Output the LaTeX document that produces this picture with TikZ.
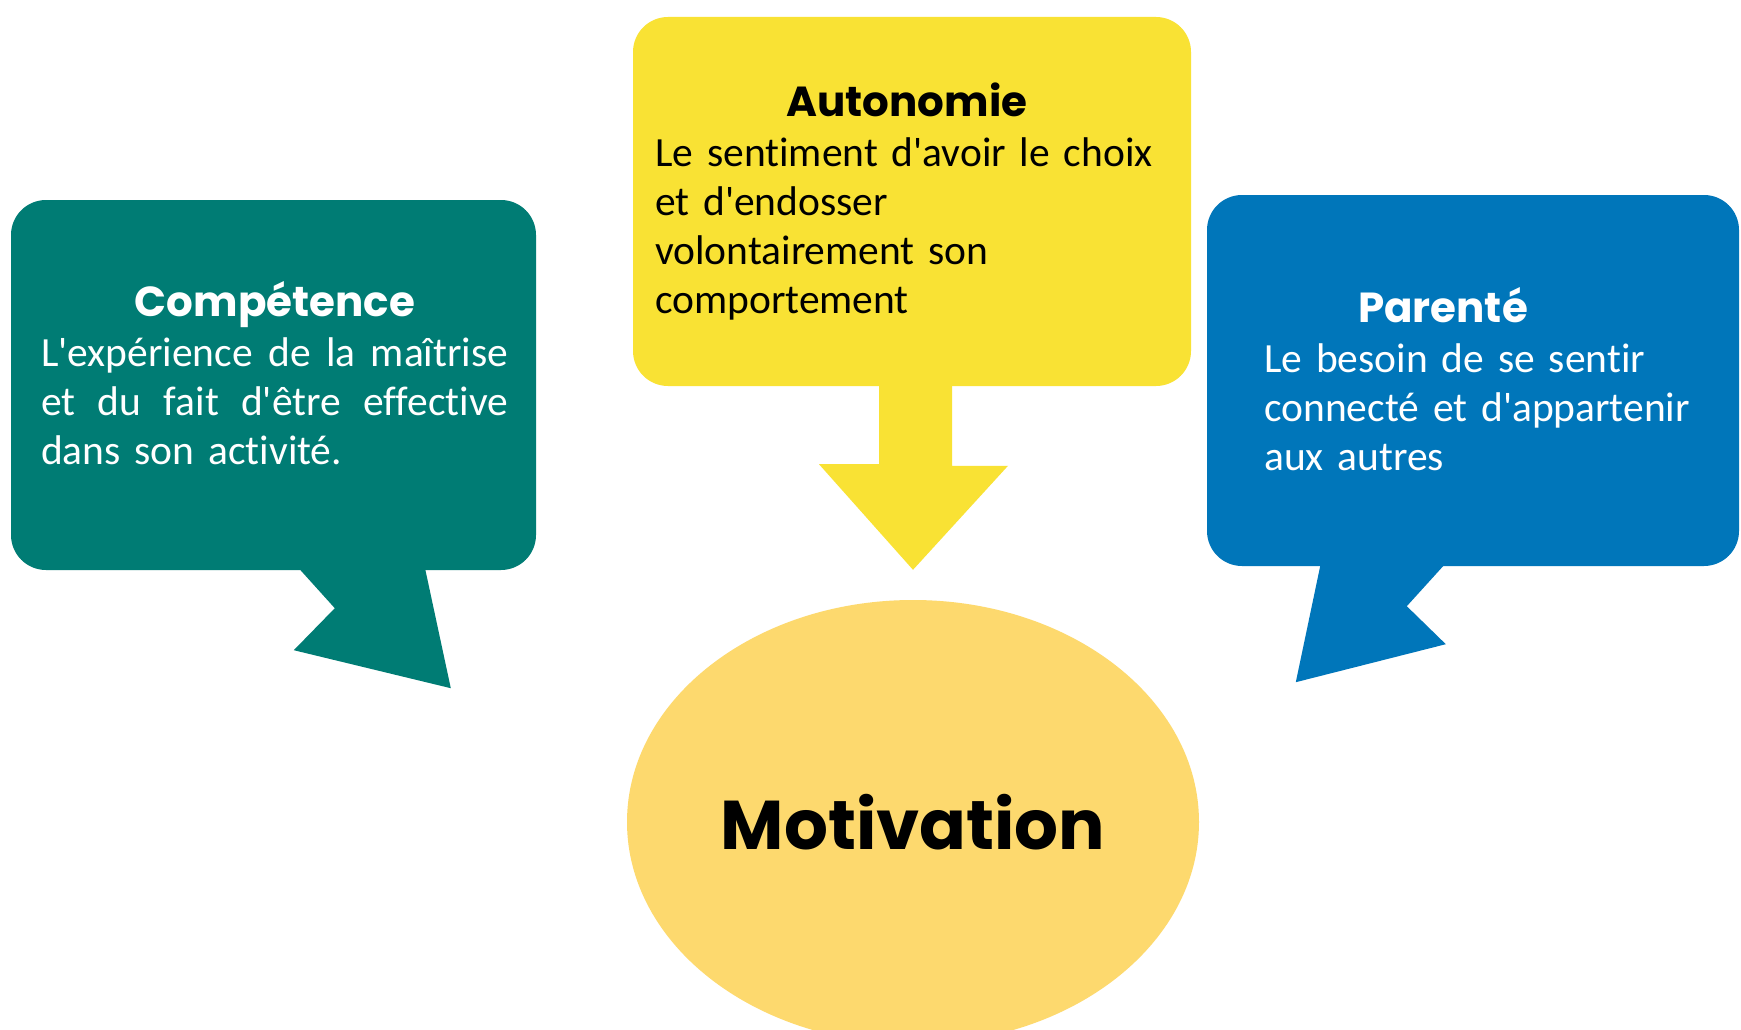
\documentclass[tikz,border=0pt]{standalone}
\usepackage{fontspec}
\setmainfont{Carlito}[Ligatures=NoCommon]
\newfontfamily\headfont{Poppins}
\usetikzlibrary{shapes.geometric}
\definecolor{compgreen}{HTML}{007C74}
\definecolor{autoyellow}{HTML}{F9E234}
\definecolor{pareblue}{HTML}{0076BA}
\definecolor{motivgold}{HTML}{FDD96E}
\newcommand{\apq}{\textquotesingle}
\begin{document}
\begin{tikzpicture}[x=1pt,y=-1pt]
        \tikzset{bubble/.style={rounded corners=35pt,inner sep=0pt},
            headtext/.style={font=\headfont\bfseries\fontsize{42}{46}\selectfont,inner sep=0pt,anchor=base},
            bodytext/.style={font=\fontsize{41.5}{49}\selectfont,inner sep=0pt,anchor=base west,align=left}}
        \clip (0,0) rectangle (1741,1030);
        \fill[white] (0,0) rectangle (1741,1030);
        \node[ellipse,fill=motivgold,inner sep=0pt,minimum width=572pt,minimum height=444pt] (motiv) at (913,822) {};
        \node[font=\headfont\bfseries\fontsize{69}{70}\selectfont,inner sep=0pt,anchor=base] (motivtext) at (913,849) {Motivation};
        \coordinate (motivtip) at ([yshift=30pt]motiv.north);
        \node[bubble,fill=compgreen,minimum width=525pt,minimum height=370pt] (comp) at (273.5,385) {};
        \fill[compgreen] ([xshift=287pt,yshift=3pt]comp.south west) -- ++(37,41) -- ++(-41,42)
            -- ++(157,38) -- ++(-26,-121) -- cycle;
        \node[bubble,fill=autoyellow,minimum width=558pt,minimum height=369pt] (auto) at (912,201.5) {};
        \fill[autoyellow] ([xshift=-33pt,yshift=3pt]auto.south) -- ++(0,81) -- ++(-60,0) -- (motivtip)
            -- ++(95,-104) -- ++(-56,0) -- ++(0,-83) -- cycle;
        \node[bubble,fill=pareblue,minimum width=532pt,minimum height=371pt] (pare) at (1473,380.5) {};
        \fill[pareblue] ([xshift=114pt,yshift=3pt]pare.south west) -- ++(-25,119) -- ++(150,-38)
            -- ++(-39,-38) -- ++(39,-43) -- cycle;
        \node[headtext,text=white] (comptitle) at (275,316) {Compétence};
        \node[bodytext,text=white,text width=467pt] (compbody) at (41,366)
            {\leavevmode\hbox to\hsize{L\apq expérience\hfil de\hfil la\hfil maîtrise}\\
             \leavevmode\hbox to\hsize{et\hfil du\hfil fait\hfil d\apq être\hfil effective}\\dans son activité.};
        \node[headtext] (autotitle) at (907,117) {Autonomie};
        \node[bodytext,text width=520pt] (autobody) at (655,167)
            {Le sentiment d\apq avoir le choix\\et d\apq endosser\\volontairement son\\comportement};
        \node[headtext,text=white] (paretitle) at (1443,322) {Parenté};
        \node[bodytext,text=white,text width=460pt] (parebody) at (1264,372)
            {Le besoin de se sentir\\connecté et d\apq appartenir\\aux autres};
\end{tikzpicture}
\end{document}
